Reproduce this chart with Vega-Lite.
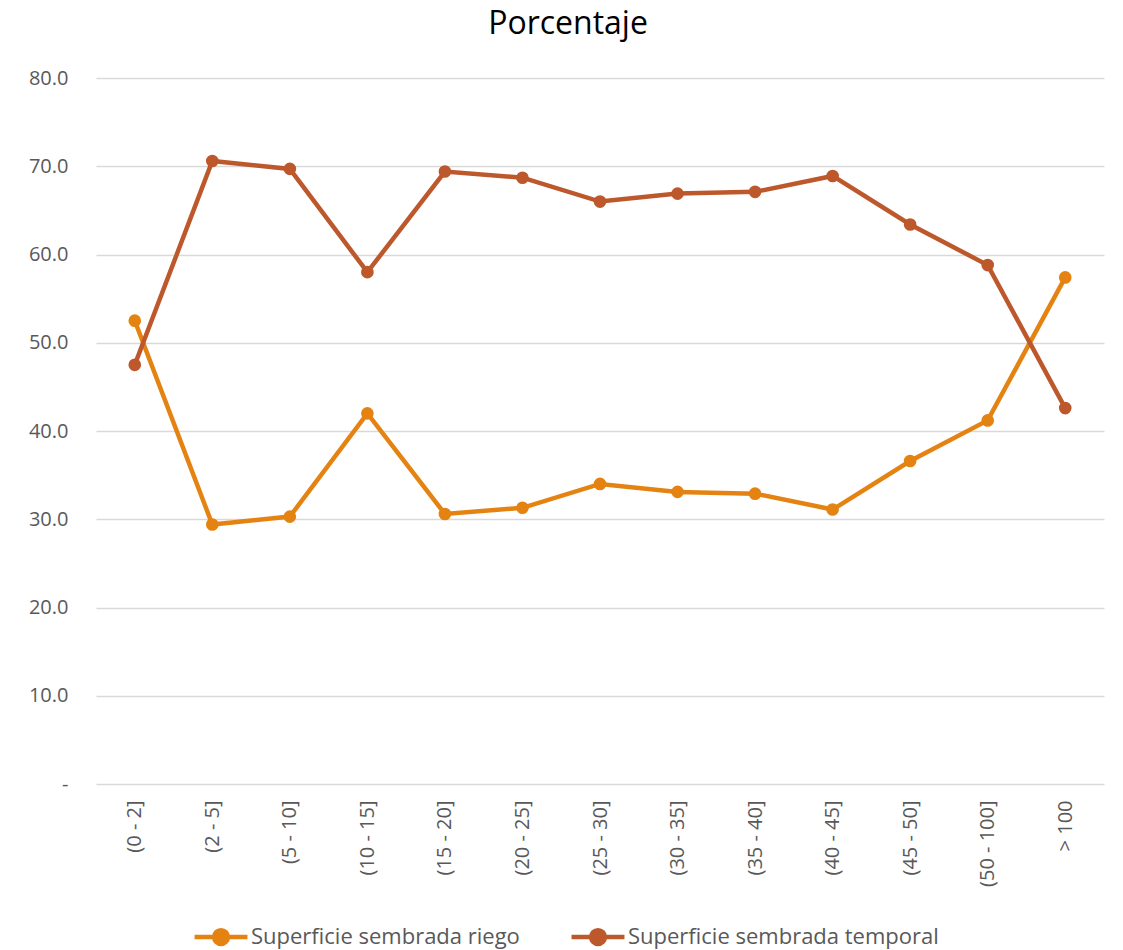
{
  "$schema": "https://vega.github.io/schema/vega-lite/v6.json",
  "width": 1008,
  "height": 706,
  "autosize": {"type": "none"},
  "padding": {"left": 96, "top": 78, "right": 19, "bottom": 166},
  "background": "white",
  "title": {"text": "Porcentaje", "fontSize": 32, "font": "Open Sans", "fontWeight": "normal", "color": "#000000", "anchor": "middle", "dx": -32, "offset": 2, "baseline": "alphabetic"},
  "config": {"view": {"stroke": null}, "font": "Open Sans"},
  "data": {"values": [
    {"rango": "(0 - 2]", "serie": "Superficie sembrada riego", "valor": 52.5},
    {"rango": "(2 - 5]", "serie": "Superficie sembrada riego", "valor": 29.4},
    {"rango": "(5 - 10]", "serie": "Superficie sembrada riego", "valor": 30.3},
    {"rango": "(10 - 15]", "serie": "Superficie sembrada riego", "valor": 42.0},
    {"rango": "(15 - 20]", "serie": "Superficie sembrada riego", "valor": 30.6},
    {"rango": "(20 - 25]", "serie": "Superficie sembrada riego", "valor": 31.3},
    {"rango": "(25 - 30]", "serie": "Superficie sembrada riego", "valor": 34.0},
    {"rango": "(30 - 35]", "serie": "Superficie sembrada riego", "valor": 33.1},
    {"rango": "(35 - 40]", "serie": "Superficie sembrada riego", "valor": 32.9},
    {"rango": "(40 - 45]", "serie": "Superficie sembrada riego", "valor": 31.1},
    {"rango": "(45 - 50]", "serie": "Superficie sembrada riego", "valor": 36.6},
    {"rango": "(50 - 100]", "serie": "Superficie sembrada riego", "valor": 41.2},
    {"rango": "> 100", "serie": "Superficie sembrada riego", "valor": 57.4},
    {"rango": "(0 - 2]", "serie": "Superficie sembrada temporal", "valor": 47.5},
    {"rango": "(2 - 5]", "serie": "Superficie sembrada temporal", "valor": 70.6},
    {"rango": "(5 - 10]", "serie": "Superficie sembrada temporal", "valor": 69.7},
    {"rango": "(10 - 15]", "serie": "Superficie sembrada temporal", "valor": 58.0},
    {"rango": "(15 - 20]", "serie": "Superficie sembrada temporal", "valor": 69.4},
    {"rango": "(20 - 25]", "serie": "Superficie sembrada temporal", "valor": 68.7},
    {"rango": "(25 - 30]", "serie": "Superficie sembrada temporal", "valor": 66.0},
    {"rango": "(30 - 35]", "serie": "Superficie sembrada temporal", "valor": 66.9},
    {"rango": "(35 - 40]", "serie": "Superficie sembrada temporal", "valor": 67.1},
    {"rango": "(40 - 45]", "serie": "Superficie sembrada temporal", "valor": 68.9},
    {"rango": "(45 - 50]", "serie": "Superficie sembrada temporal", "valor": 63.4},
    {"rango": "(50 - 100]", "serie": "Superficie sembrada temporal", "valor": 58.8},
    {"rango": "> 100", "serie": "Superficie sembrada temporal", "valor": 42.6}
  ]},
  "mark": {"type": "line", "strokeWidth": 4.5, "point": {"filled": true, "size": 160}},
  "encoding": {
    "x": {
      "field": "rango", "type": "nominal", "sort": null,
      "scale": {"type": "point", "padding": 0.5},
      "axis": {"title": null, "labelAngle": -90, "labelFontSize": 20, "labelColor": "#595959", "labelPadding": 16, "ticks": false, "domain": false, "grid": false}
    },
    "y": {
      "field": "valor", "type": "quantitative",
      "scale": {"domain": [0, 80], "nice": false},
      "axis": {"title": null, "values": [0, 10, 20, 30, 40, 50, 60, 70, 80], "labelExpr": "datum.value == 0 ? '-' : format(datum.value, '.1f')", "labelFontSize": 20, "labelColor": "#595959", "labelPadding": 28, "ticks": false, "domain": false, "gridColor": "#d9d9d9", "gridWidth": 1.5}
    },
    "color": {
      "field": "serie", "type": "nominal",
      "scale": {"domain": ["Superficie sembrada riego", "Superficie sembrada temporal"], "range": ["#E48312", "#BD582C"]},
      "legend": {
        "title": null, "orient": "none", "direction": "horizontal", "legendX": 96, "legendY": 830,
        "symbolType": "M-1,0L1,0M-0.26,0A0.26,0.26,0,1,1,0.26,0A0.26,0.26,0,1,1,-0.26,0Z",
        "symbolSize": 2800, "symbolStrokeWidth": 4.5, "labelFontSize": 22, "labelColor": "#595959", "labelOffset": 1, "columnPadding": 42,
        "labelLimit": 400,
        "encode": {"symbols": {"update": {"fill": {"scale": "color", "field": "value"}, "fillOpacity": {"value": 1}}}}
      }
    }
  }
}
